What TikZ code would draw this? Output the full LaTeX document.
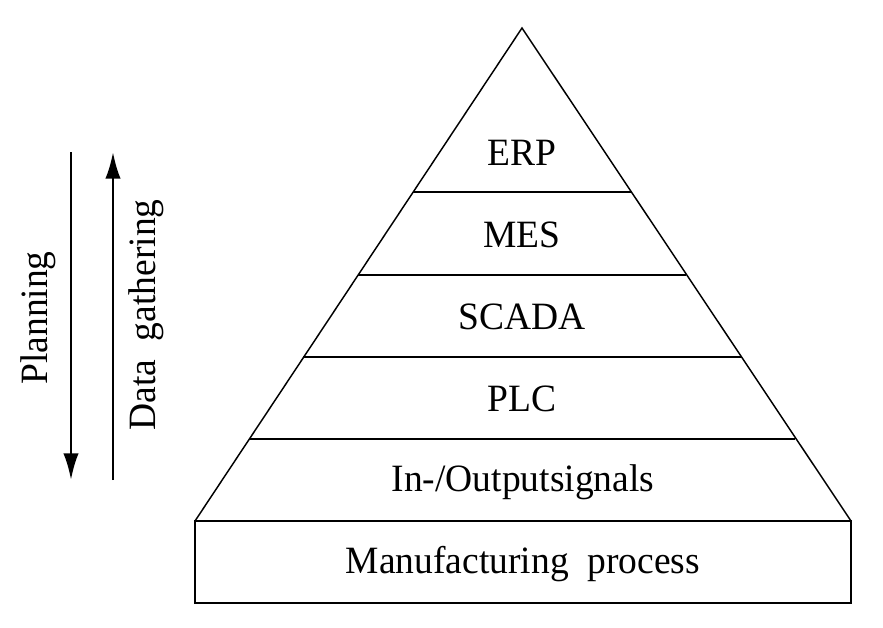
\documentclass[tikz,border=0pt]{standalone}
\usepackage{fontspec}
\setmainfont[FakeStretch=0.97]{Liberation Serif}
\usetikzlibrary{arrows.meta}
\begin{document}
\begin{tikzpicture}[x=0.75pt,y=-0.75pt,
  level/.style={font=\fontsize{29}{34}\selectfont, inner sep=0pt, anchor=base},
  side/.style={font=\fontsize{29}{34}\selectfont, inner sep=0pt, rotate=90},
  edge/.style={line width=1.1pt},
  flow/.style={line width=1.9pt, -{Latex[length=20pt,width=11.5pt]}}]
\useasboundingbox (0,0) rectangle (883,628);

% pyramid outline and layer dividers
\coordinate (apex) at (522,28);
\coordinate (bl) at (195,521);
\coordinate (br) at (851,521);
\draw[edge,line join=miter] (bl) -- (apex) -- (br);
\foreach \y in {192,275,357,439}{
  \pgfmathsetmacro{\hw}{(\y-28)/493*328}
  \draw[edge] ({522-\hw},\y) -- ({522+\hw},\y);
}
% base block
\draw[edge] (195,521) rectangle (851,603);

% layer labels (placed on their baselines)
\node[level] (erp)   at (522,165) {ERP};
\node[level] (mes)   at (522,247) {MES};
\node[level] (scada) at (522,329) {SCADA};
\node[level] (plc)   at (522,411) {PLC};
\node[level] (io)    at (523,491) {In-/Outputsignals};
\node[level] (mfg)   at (523,573) {Manufacturing\ \ process};

% direction arrows
\coordinate (plantop) at (71,152);
\coordinate (planbot) at (71,480);
\coordinate (datbot) at (113,480);
\coordinate (dattop) at (113,152);
\draw[flow] (plantop) -- (planbot);
\draw[flow] (datbot) -- (dattop);
\node[side] (plan) at (38,318) {Planning};
\node[side] (data) at (146,315) {Data\ \ gathering};
\end{tikzpicture}
\end{document}
